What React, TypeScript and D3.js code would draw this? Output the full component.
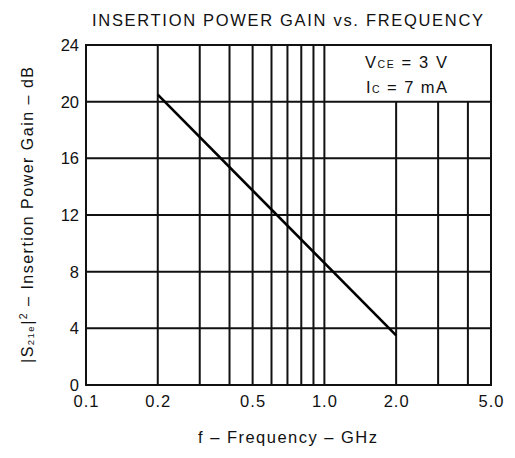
import React from 'react';
import { scaleLog, scaleLinear, line } from 'd3';

// values
const freqGHz = [0.2, 2.0];
const gainDb = [20.5, 3.5];

const xTickValues = [0.1, 0.2, 0.5, 1.0, 2.0, 5.0];
const xTickLabels = ['0.1', '0.2', '0.5', '1.0', '2.0', '5.0'];
const xGridValues = [0.2, 0.3, 0.4, 0.5, 0.6, 0.7, 0.8, 0.9, 1.0, 2.0, 3.0, 4.0];
const yTickValues = [0, 4, 8, 12, 16, 20, 24];

const font = '"Liberation Sans", Arial, Helvetica, sans-serif';

export default function App() {
  const margin = { top: 45, right: 24, bottom: 73, left: 86 };
  const width = 515;
  const height = 458;

  const x = scaleLog().domain([0.1, 5]).range([margin.left, width - margin.right]);
  const y = scaleLinear().domain([0, 24]).range([height - margin.bottom, margin.top]);

  const pts: [number, number][] = freqGHz.map((f, i) => [f, gainDb[i]]);
  const path = line<[number, number]>()
    .x(d => x(d[0]))
    .y(d => y(d[1]))(pts);

  const x0 = margin.left;
  const x1 = width - margin.right;
  const y0 = height - margin.bottom;
  const y1 = margin.top;

  return (
    <svg width={width} height={height} style={{ position: 'absolute', left: 0, top: 0, background: '#fff' }}>
      <rect x={0} y={0} width={width} height={height} fill="#fff" />
      <text x={287.5} y={26} textAnchor="middle" fontFamily={font} fontSize={16.5}
        textLength={391} lengthAdjust="spacing" fill="#111">
        INSERTION POWER GAIN vs. FREQUENCY
      </text>

      {/* grid */}
      <g stroke="#111" strokeWidth={2}>
        {yTickValues.map(v => (
          <line key={'h' + v} x1={x0} x2={x1} y1={y(v)} y2={y(v)} />
        ))}
        {xGridValues.map(v => (
          <line key={'v' + v} x1={x(v)} x2={x(v)} y1={y0} y2={v > 1 ? y(20) : y1} />
        ))}
        <rect x={x0} y={y1} width={x1 - x0} height={y0 - y1} fill="none" />
      </g>

      <text x={365} y={68} fontFamily={font} fontSize={16.5} fill="#111" textLength={82} lengthAdjust="spacing">
        V<tspan fontSize={10.5}>CE</tspan> = 3 V
      </text>
      <text x={366} y={93} fontFamily={font} fontSize={16.5} fill="#111" textLength={81} lengthAdjust="spacing">
        I<tspan fontSize={10.5}>C</tspan> = 7 mA
      </text>

      {/* data */}
      <path d={path || ''} fill="none" stroke="#000" strokeWidth={2.6} />

      {/* y ticks */}
      {yTickValues.map(v => (
        <text key={'yl' + v} x={79} y={y(v) + 6} textAnchor="end" fontFamily={font} fontSize={16.5} fill="#111">
          {v}
        </text>
      ))}
      {/* x ticks */}
      {xTickValues.map((v, i) => (
        <text key={'xl' + v} x={x(v)} y={407} textAnchor="middle" fontFamily={font} fontSize={16.5}
          textLength={25} lengthAdjust="spacing" fill="#111">
          {xTickLabels[i]}
        </text>
      ))}

      <text x={287.5} y={443} textAnchor="middle" fontFamily={font} fontSize={16.5}
        textLength={179} lengthAdjust="spacing" fill="#111">
        f – Frequency – GHz
      </text>

      <text transform="translate(33,215) rotate(-90)" textAnchor="middle" fontFamily={font} fontSize={16}
        textLength={296} lengthAdjust="spacing" fill="#111">
        |S<tspan fontSize={9.5} dy={1}>21e</tspan><tspan dy={-1}>|</tspan><tspan fontSize={10.5} dy={-6}>2</tspan><tspan dy={6}> – Insertion Power Gain – dB</tspan>
      </text>
    </svg>
  );
}
